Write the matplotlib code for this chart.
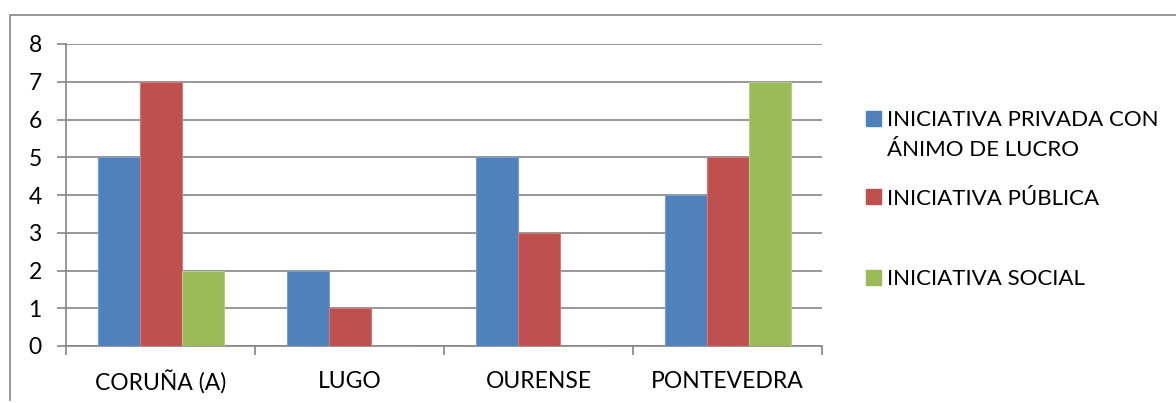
import numpy as np
import matplotlib.pyplot as plt
from matplotlib.patches import Rectangle
from matplotlib.lines import Line2D

provincias = ['CORUÑA (A)', 'LUGO', 'OURENSE', 'PONTEVEDRA']
privada = [5, 2, 5, 4]
publica = [7, 1, 3, 5]
social = [2, 0, 0, 7]
series_names = [['INICIATIVA PRIVADA CON', 'ÁNIMO DE LUCRO'], ['INICIATIVA PÚBLICA'], ['INICIATIVA SOCIAL']]
colors = ['#4F81BD', '#C0504D', '#9BBB59']
edges = ['#7A9CCB', '#CC7B79', '#B5CD8A']

plt.rcParams['font.family'] = ['Lato', 'DejaVu Sans']
W, H = 1176, 403
fig = plt.figure(figsize=(W / 100, H / 100), dpi=100)
ax = fig.add_axes([66 / W, 1 - 346 / H, (822 - 66) / W, (346 - 44) / H])

x = np.arange(len(provincias))
bw = 1 / 4.5
for i, vals in enumerate([privada, publica, social]):
    ax.bar(x + (i - 1) * bw, vals, bw, color=colors[i], edgecolor=edges[i],
           linewidth=0.8, zorder=3)

ax.set_xlim(-0.5, 3.5)
ax.set_ylim(0, 8)
ax.set_yticks(range(9))
ax.yaxis.grid(True, color='#868686', linewidth=1.2, zorder=0)
ax.set_xticks([-0.5, 0.5, 1.5, 2.5, 3.5])
ax.set_xticklabels([])
ax.set_xticks(x, minor=True)
ax.set_xticklabels(provincias, minor=True)
ax.tick_params(axis='x', which='minor', length=0, pad=18, labelsize=16.5)
ax.tick_params(axis='x', which='major', length=6.5, color='#868686', width=1.2)
ax.tick_params(axis='y', length=6.5, color='#868686', width=1.2, labelsize=16.5, pad=11)
for s in ['top', 'right']:
    ax.spines[s].set_visible(False)
for s in ['left', 'bottom']:
    ax.spines[s].set_color('#868686')
    ax.spines[s].set_linewidth(1.2)

# legend drawn by hand to follow the original layout
leg_y = [118, 197, 277]
for i, lines in enumerate(series_names):
    y = leg_y[i]
    fig.patches.append(Rectangle((866 / W, 1 - (y + 7.5) / H), 15 / W, 15 / H,
                                 transform=fig.transFigure, color=colors[i]))
    for j, line in enumerate(lines):
        fig.text(887 / W, 1 - (y + 8 + 30 * j) / H, line, va='baseline',
                 ha='left', fontsize=16)

# chart frame: only top and left edges are visible in the original crop
fig.lines.append(Line2D([10 / W, 10 / W, 1], [1 - 400 / H, 1 - 15 / H, 1 - 15 / H],
                        transform=fig.transFigure, color='#868686', linewidth=1.2))

fig.savefig('out.png', dpi=100)
